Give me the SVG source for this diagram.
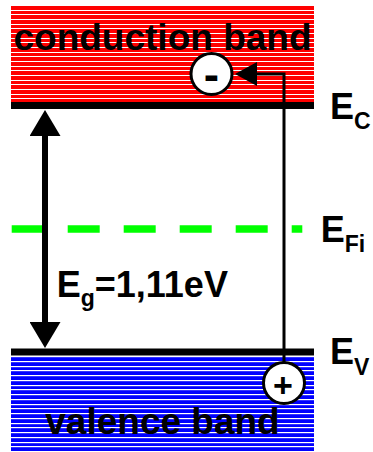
<svg xmlns="http://www.w3.org/2000/svg" width="373" height="452" viewBox="0 0 373 452">
<defs>
<pattern id="redStripes" patternUnits="userSpaceOnUse" x="0" y="5" width="10" height="14">
<rect x="0" y="0" width="10" height="14" fill="#ff0000"/>
<rect x="0" y="0" width="10" height="1" fill="#ffffff"/>
<rect x="0" y="5" width="10" height="1" fill="#ffffff"/>
<rect x="0" y="9" width="10" height="1" fill="#ffffff"/>
</pattern>
<pattern id="blueStripes" patternUnits="userSpaceOnUse" x="0" y="356" width="10" height="19">
<rect x="0" y="0" width="10" height="19" fill="#0000ff"/>
<rect x="0" y="0" width="10" height="1.2" fill="#ffffff"/>
<rect x="0" y="5" width="10" height="1.2" fill="#ffffff"/>
<rect x="0" y="10" width="10" height="1.2" fill="#ffffff"/>
<rect x="0" y="14" width="10" height="1.2" fill="#ffffff"/>
</pattern>
<marker id="gapHead" markerUnits="userSpaceOnUse" markerWidth="26" markerHeight="31" refX="0" refY="15.5" orient="auto-start-reverse" viewBox="0 0 26 31">
<path d="M0,0 L26,15.5 L0,31 Z" fill="#000"/>
</marker>
<marker id="pathHead" markerUnits="userSpaceOnUse" markerWidth="22" markerHeight="24" refX="0" refY="12" orient="auto" viewBox="0 0 22 24">
<path d="M0,0 L22,12 L0,24 Z" fill="#000"/>
</marker>
</defs>
<style>
.lbl{font-family:"Liberation Sans",Arial,sans-serif;font-weight:bold;fill:#000}
.band{font-size:37px}
.big{font-size:36px}
.sub{font-size:23px}
.level{fill:#000}
.conn{fill:none;stroke:#000}
.circ{fill:#fff;stroke:#000;stroke-width:3}
</style>
<rect width="373" height="452" fill="#fff"/>

<g id="conduction-band">
<rect x="11" y="5" width="303" height="97" fill="url(#redStripes)"/>
<rect class="level" x="11" y="102" width="303" height="7"/>
<text class="lbl band" x="162.5" y="49.5" text-anchor="middle">conduction band</text>
</g>

<g id="valence-band">
<rect x="11" y="356" width="303" height="96" fill="url(#blueStripes)"/>
<rect class="level" x="11" y="348.5" width="303" height="7"/>
<text class="lbl band" x="162.5" y="434" text-anchor="middle">valence band</text>
</g>

<g id="fermi-level">
<line x1="11.7" y1="229" x2="302.3" y2="229" stroke="#00ff00" stroke-width="7.5" stroke-dasharray="32 24"/>
</g>

<g id="connectors">
<line class="conn" x1="45" y1="136" x2="45" y2="322" stroke-width="6" marker-start="url(#gapHead)" marker-end="url(#gapHead)"/>
<path class="conn" d="M284,362 V74 H257" stroke-width="3" marker-end="url(#pathHead)"/>
</g>

<g id="electron">
<circle class="circ" cx="211.5" cy="74" r="20.5"/>
<text class="lbl" x="211.5" y="89.5" font-size="46" text-anchor="middle">-</text>
</g>

<g id="hole">
<circle class="circ" cx="284" cy="383" r="20.5"/>
<text class="lbl" x="283" y="396.5" font-size="34" text-anchor="middle">+</text>
</g>

<g id="label-ec">
<text class="lbl big" x="330" y="119">E<tspan class="sub" dy="10">C</tspan></text>
</g>
<g id="label-efi">
<text class="lbl big" x="320.7" y="242.3">E<tspan class="sub" dy="10">Fi</tspan></text>
</g>
<g id="label-ev">
<text class="lbl big" x="330" y="364">E<tspan class="sub" dy="11">V</tspan></text>
</g>
<g id="label-gap">
<text class="lbl big" x="56.7" y="296.7">E<tspan class="sub" dy="9">g</tspan><tspan dy="-9">=1,11eV</tspan></text>
</g>
</svg>
